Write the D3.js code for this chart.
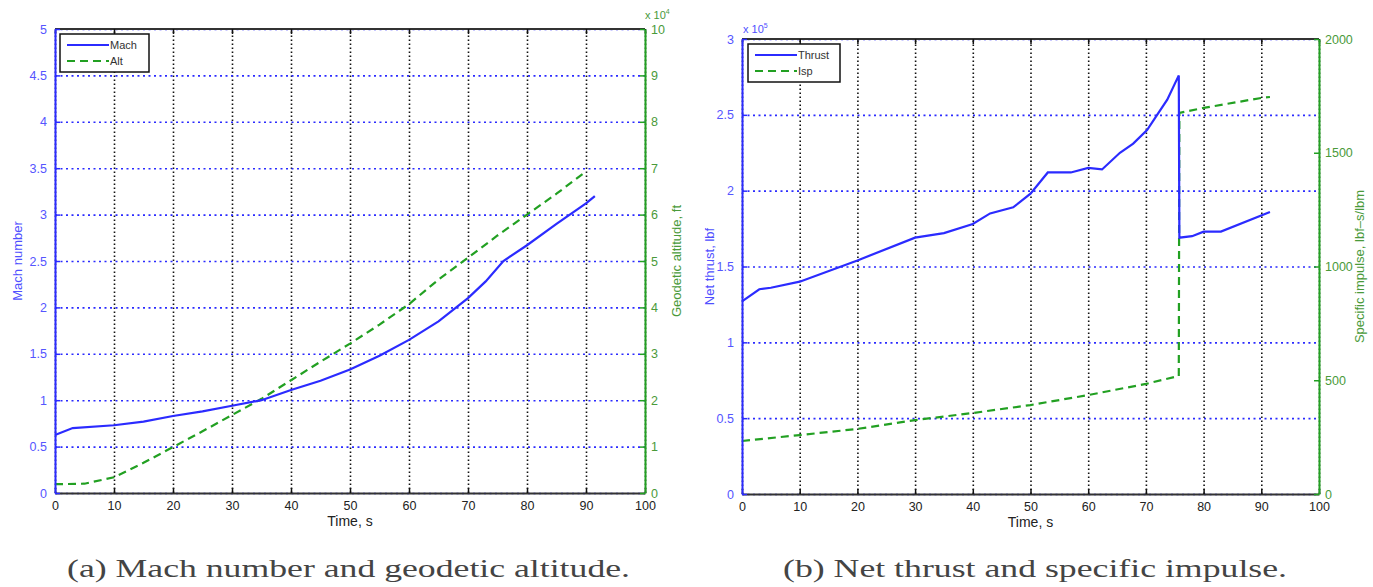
<!DOCTYPE html>
<html>
<head>
<meta charset="utf-8">
<script src="https://cdn.jsdelivr.net/npm/d3@7"></script>
<style>
  body { margin: 0; background: #fff; }
  svg { display: block; }
  .tick text { font-family: "Liberation Sans", Arial, sans-serif; }
</style>
</head>
<body>
<svg id="chart" width="1373" height="587"></svg>
<script>
// --- panel (a): Mach number and geodetic altitude ---
const machTime = [0, 3, 10, 15, 20, 25, 30, 35, 40, 45, 50, 55, 60, 65, 70, 73, 76, 80, 85, 90, 91.5];
const machValues = [0.625, 0.70, 0.73, 0.77, 0.83, 0.88, 0.94, 1.0, 1.11, 1.21, 1.33, 1.48, 1.65, 1.85, 2.1, 2.28, 2.5, 2.67, 2.9, 3.12, 3.2];
const altTime = [0, 5, 10, 15, 20, 25, 30, 35, 40, 45, 50, 55, 60, 65, 70, 75, 80, 85, 90];
const altValues = [0.19, 0.2, 0.34, 0.65, 0.99, 1.33, 1.68, 2.03, 2.43, 2.83, 3.22, 3.63, 4.07, 4.6, 5.07, 5.55, 6.0, 6.45, 6.93]; // x 10^4 ft

// --- panel (b): net thrust and specific impulse ---
const thrustTime = [0, 3, 5, 10, 20, 30, 35, 40, 43, 47, 50, 53, 57, 60, 62.4, 65.5, 67.8, 70.2, 71.6, 73.7, 75.7, 75.8, 78, 80, 83, 91.5];
const thrustValues = [1.27, 1.35, 1.36, 1.40, 1.54, 1.69, 1.72, 1.78, 1.85, 1.89, 1.98, 2.12, 2.12, 2.15, 2.14, 2.25, 2.31, 2.40, 2.48, 2.60, 2.76, 1.69, 1.70, 1.73, 1.73, 1.86]; // x 10^5 lbf
const ispTime = [0, 10, 20, 30, 40, 50, 60, 70, 75.7, 75.8, 80, 90, 91.5];
const ispValues = [233, 259, 286, 325, 356, 391, 435, 484, 519, 1675, 1697, 1741, 1745];

const timeTicks = [0, 10, 20, 30, 40, 50, 60, 70, 80, 90, 100];
const machTicks = [0, 0.5, 1, 1.5, 2, 2.5, 3, 3.5, 4, 4.5, 5];
const altTicks = [0, 1, 2, 3, 4, 5, 6, 7, 8, 9, 10];
const thrustTicks = [0, 0.5, 1, 1.5, 2, 2.5, 3];
const ispTicks = [0, 500, 1000, 1500, 2000];

const BLUE = "#2b2bff";
const GREEN = "#22a022";
const FONT = "'Liberation Sans', Arial, sans-serif";

const svg = d3.select("#chart");

function drawPanel(p) {
    const x = d3.scaleLinear().domain([0, 100]).range([p.left, p.right]);
    const yL = d3.scaleLinear().domain(p.leftDomain).range([p.bottom, p.top]);
    const yR = d3.scaleLinear().domain(p.rightDomain).range([p.bottom, p.top]);
    const w = p.right - p.left, h = p.bottom - p.top;
    const g = svg.append("g");

    // vertical grid (black dotted)
    g.append("g")
        .attr("transform", `translate(0,${p.bottom})`)
        .call(d3.axisBottom(x).tickValues(timeTicks).tickSize(-h).tickFormat(""))
        .call(a => a.select(".domain").remove())
        .selectAll("line")
        .attr("stroke", "#111").attr("stroke-width", 1.6).attr("stroke-dasharray", "1.5,2.5");

    // horizontal grid (blue dotted)
    g.append("g")
        .attr("transform", `translate(${p.left},0)`)
        .call(d3.axisLeft(yL).tickValues(p.leftTicks).tickSize(-w).tickFormat(""))
        .call(a => a.select(".domain").remove())
        .selectAll("line")
        .attr("stroke", BLUE).attr("stroke-width", 1.6).attr("stroke-dasharray", "2,3.5");

    // top frame
    g.append("line").attr("x1", p.left).attr("x2", p.right).attr("y1", p.top).attr("y2", p.top)
        .attr("stroke", "#333").attr("stroke-width", 2);

    // bottom axis
    const xb = g.append("g")
        .attr("transform", `translate(0,${p.bottom})`)
        .call(d3.axisBottom(x).tickValues(timeTicks).tickSizeInner(-5).tickSizeOuter(0).tickPadding(8));
    xb.select(".domain").attr("stroke", "#333").attr("stroke-width", 2);
    xb.selectAll("line").attr("stroke", "#111").attr("stroke-width", 1.5);
    xb.selectAll("text").attr("fill", "#222").style("font-size", "12.5px").style("font-family", FONT);

    // top ticks
    g.append("g")
        .attr("transform", `translate(0,${p.top})`)
        .call(d3.axisTop(x).tickValues(timeTicks).tickSizeInner(-5).tickSizeOuter(0).tickFormat(""))
        .call(a => a.select(".domain").remove())
        .selectAll("line").attr("stroke", "#111").attr("stroke-width", 1.5);

    // lines
    const lineL = d3.line().x(d => x(d[0])).y(d => yL(d[1]));
    const lineR = d3.line().x(d => x(d[0])).y(d => yR(d[1]));
    g.append("path")
        .datum(d3.zip(p.rightTime, p.rightValues))
        .attr("d", lineR).attr("fill", "none")
        .attr("stroke", GREEN).attr("stroke-width", 2.2).attr("stroke-dasharray", "8,5");
    g.append("path")
        .datum(d3.zip(p.leftTime, p.leftValues))
        .attr("d", lineL).attr("fill", "none")
        .attr("stroke", BLUE).attr("stroke-width", 2.2);

    // left axis
    const al = g.append("g")
        .attr("transform", `translate(${p.left},0)`)
        .call(d3.axisLeft(yL).tickValues(p.leftTicks).tickSizeInner(-5).tickSizeOuter(0).tickPadding(8)
            .tickFormat(d => String(d)));
    al.select(".domain").attr("stroke", BLUE).attr("stroke-width", 2);
    al.selectAll("line").attr("stroke", BLUE).attr("stroke-width", 1.5);
    al.selectAll("text").attr("fill", "#5555ff").style("font-size", "12.5px").style("font-family", FONT);

    // right axis
    const ar = g.append("g")
        .attr("transform", `translate(${p.right},0)`)
        .call(d3.axisRight(yR).tickValues(p.rightTicks).tickSizeInner(-5).tickSizeOuter(0).tickPadding(6)
            .tickFormat(d => String(d)));
    ar.select(".domain").attr("stroke", GREEN).attr("stroke-width", 2);
    ar.selectAll("line").attr("stroke", GREEN).attr("stroke-width", 1.5);
    ar.selectAll("text").attr("fill", "#4a9a3a").style("font-size", "12.5px").style("font-family", FONT);

    // axis labels
    g.append("text")
        .attr("x", (p.left + p.right) / 2).attr("y", p.bottom + 33)
        .attr("text-anchor", "middle").attr("fill", "#222")
        .style("font-family", FONT).style("font-size", "14px")
        .text("Time, s");
    g.append("text")
        .attr("transform", `translate(${p.leftLabelX},${(p.top + p.bottom) / 2}) rotate(-90)`)
        .attr("text-anchor", "middle").attr("fill", "#5050ff")
        .style("font-family", FONT).style("font-size", "13px")
        .text(p.leftLabel);
    g.append("text")
        .attr("transform", `translate(${p.rightLabelX},${(p.top + p.bottom) / 2}) rotate(-90)`)
        .attr("text-anchor", "middle").attr("fill", "#4a9a3a")
        .style("font-family", FONT).style("font-size", "13px")
        .text(p.rightLabel);

    // exponent label
    const ex = g.append("text")
        .attr("x", p.expX).attr("y", p.expY)
        .attr("fill", p.expColor)
        .style("font-family", FONT).style("font-size", "11px");
    ex.append("tspan").text("x 10");
    ex.append("tspan").attr("dy", -5).style("font-size", "7px").text(p.expPow);

    // legend
    const lg = g.append("g").attr("transform", `translate(${p.legX},${p.legY})`);
    lg.append("rect").attr("width", p.legW).attr("height", 38)
        .attr("fill", "#fff").attr("stroke", "#111").attr("stroke-width", 1.5);
    lg.append("line").attr("x1", 7).attr("x2", 49).attr("y1", 11).attr("y2", 11)
        .attr("stroke", BLUE).attr("stroke-width", 2);
    lg.append("line").attr("x1", 7).attr("x2", 49).attr("y1", 27).attr("y2", 27)
        .attr("stroke", GREEN).attr("stroke-width", 2).attr("stroke-dasharray", "8,5");
    lg.append("text").attr("x", 50).attr("y", 15).text(p.legNames[0])
        .attr("fill", "#333").style("font-family", FONT).style("font-size", "11px");
    lg.append("text").attr("x", 50).attr("y", 31).text(p.legNames[1])
        .attr("fill", "#333").style("font-family", FONT).style("font-size", "11px");

    // caption
    svg.append("text")
        .attr("x", p.capX).attr("y", 577)
        .attr("fill", "#444")
        .attr("textLength", p.capW).attr("lengthAdjust", "spacingAndGlyphs")
        .style("font-family", "'Liberation Serif', 'DejaVu Serif', serif").style("font-size", "26px")
        .text(p.caption);
}

drawPanel({
    left: 55, right: 645, top: 29, bottom: 493,
    leftDomain: [0, 5], rightDomain: [0, 10],
    leftTicks: machTicks, rightTicks: altTicks,
    leftTime: machTime, leftValues: machValues,
    rightTime: altTime, rightValues: altValues,
    leftLabel: "Mach number", rightLabel: "Geodetic altitude, ft",
    leftLabelX: 22, rightLabelX: 681,
    expX: 645, expY: 19, expPow: "4", expColor: "#4a9a3a",
    legX: 60, legY: 34, legW: 89, legNames: ["Mach", "Alt"],
    caption: "(a) Mach number and geodetic altitude.", capX: 67, capW: 563
});

drawPanel({
    left: 742, right: 1319, top: 39, bottom: 494,
    leftDomain: [0, 3], rightDomain: [0, 2000],
    leftTicks: thrustTicks, rightTicks: ispTicks,
    leftTime: thrustTime, leftValues: thrustValues,
    rightTime: ispTime, rightValues: ispValues,
    leftLabel: "Net thrust, lbf", rightLabel: "Specific impulse, lbf\u2013s/lbm",
    leftLabelX: 714, rightLabelX: 1364,
    expX: 743, expY: 33, expPow: "5", expColor: "#5050ff",
    legX: 748, legY: 44, legW: 92, legNames: ["Thrust", "Isp"],
    caption: "(b) Net thrust and specific impulse.", capX: 783, capW: 504
});
</script>
</body>
</html>
